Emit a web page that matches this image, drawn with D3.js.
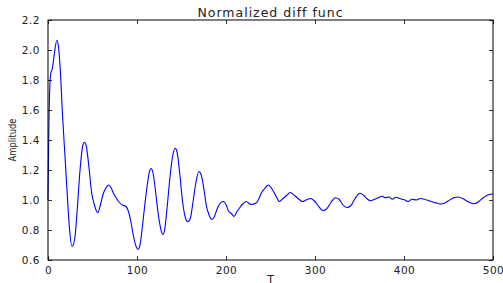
<!DOCTYPE html>
<html><head><meta charset="utf-8">
<script src="https://cdn.jsdelivr.net/npm/d3@7/dist/d3.min.js"></script>
<style>body{margin:0;background:#fff}svg{display:block}</style>
</head><body>
<script>
const T = [0,1,2,3,5,7,10,12,14,16,19,22,24,27,30,33,36,39,41,43,46,49,52,56,59,62,65,68,71,74,77,80,84,87,90,93,96,99,101,103,106,109,112,114,116,118,121,124,127,129,131,134,137,140,143,145,148,151,154,157,160,163,166,169.5,172,175,178,181,184,187,190,193,197,200,203,206,209,212,215,219,222.5,228,234,237,240,244,247.5,251,255,260,264,268,272,277,282,286,290,295,300,305,309,313,318,323,327,331,335.6,340,345,350.5,355,359,362.5,367,371,375.5,379,383,387,391,395,398,401,404.6,409,414,418,423,428,433,437,441,446,450,456,461,466,470,475,479,484,488,493,497,500];
const amplitude = [1.00,1.50,1.75,1.84,1.88,1.97,2.065,2.01,1.85,1.60,1.30,1.00,0.82,0.69,0.74,0.95,1.20,1.36,1.385,1.36,1.22,1.05,0.97,0.915,0.97,1.04,1.08,1.10,1.08,1.04,1.01,0.985,0.965,0.96,0.93,0.86,0.76,0.69,0.67,0.69,0.82,0.98,1.12,1.19,1.21,1.18,1.05,0.90,0.80,0.77,0.80,0.96,1.15,1.29,1.345,1.32,1.18,1.00,0.89,0.855,0.88,0.99,1.11,1.19,1.17,1.08,0.96,0.90,0.87,0.89,0.94,0.975,0.99,0.97,0.925,0.91,0.89,0.92,0.945,0.975,0.99,0.97,0.98,1.01,1.05,1.08,1.10,1.08,1.04,0.99,1.01,1.03,1.05,1.03,1.005,0.99,1.0,1.01,0.99,0.95,0.93,0.94,0.985,1.015,1.005,0.97,0.95,0.96,1.01,1.045,1.03,1.005,0.995,1.005,1.015,1.025,1.015,1.02,1.005,1.018,1.01,1.005,1.0,0.99,1.005,1.0,1.01,1.005,0.995,0.985,0.98,0.973,0.98,0.995,1.015,1.02,1.01,0.995,0.98,0.975,0.99,1.01,1.03,1.038,1.04];
const xTicks = [0,100,200,300,400,500];
const yTicks = [0.6,0.8,1.0,1.2,1.4,1.6,1.8,2.0,2.2];

const W = 503, H = 283;
const m = {l:48, r:10, t:20, b:23};
const svg = d3.select("body").append("svg").attr("width",W).attr("height",H);
const x = d3.scaleLinear().domain([0,500]).range([m.l, W-m.r]);
const y = d3.scaleLinear().domain([0.6,2.2]).range([H-m.b, m.t]);
const font = "'DejaVu Sans', sans-serif";

const data = T.map((t,i)=>({t, v: amplitude[i]}));
svg.append("path").datum(data)
  .attr("fill","none").attr("stroke","#0000ff").attr("stroke-width",1.1)
  .attr("d", d3.line().x(d=>x(d.t)).y(d=>y(d.v)).curve(d3.curveMonotoneX));

const tl = 4;
const styleAxis = g => {
  g.select(".domain").remove();
  g.selectAll("line").attr("stroke","#000").attr("stroke-width",0.8);
  g.selectAll("text").attr("font-family",font).attr("font-size","10.5px").attr("letter-spacing","0.5px").attr("fill","#222");
};
svg.append("g").attr("transform",`translate(0,${H-m.b})`)
  .call(d3.axisBottom(x).tickValues(xTicks).tickSizeInner(-tl).tickSizeOuter(0).tickPadding(7).tickFormat(d3.format("d")))
  .call(styleAxis);
svg.append("g").attr("transform",`translate(0,${m.t})`)
  .call(d3.axisTop(x).tickValues(xTicks).tickSizeInner(-tl).tickSizeOuter(0).tickFormat(""))
  .call(styleAxis);
svg.append("g").attr("transform",`translate(${m.l},0)`)
  .call(d3.axisLeft(y).tickValues(yTicks).tickSizeInner(-tl).tickSizeOuter(0).tickPadding(8).tickFormat(d3.format(".1f")))
  .call(styleAxis);
svg.append("g").attr("transform",`translate(${W-m.r},0)`)
  .call(d3.axisRight(y).tickValues(yTicks).tickSizeInner(-tl).tickSizeOuter(0).tickFormat(""))
  .call(styleAxis);

svg.append("rect").attr("x",m.l).attr("y",m.t).attr("width",W-m.r-m.l).attr("height",H-m.b-m.t)
  .attr("fill","none").attr("stroke","#000").attr("stroke-width",1);

svg.append("text").attr("x",(m.l+W-m.r)/2).attr("y",17).attr("text-anchor","middle")
  .attr("font-family",font).attr("font-size","12.5px").attr("letter-spacing","1px").attr("fill","#222").text("Normalized diff func");
svg.append("text").attr("x",(m.l+W-m.r)/2).attr("y",282.5).attr("text-anchor","middle")
  .attr("font-family",font).attr("font-size","11px").attr("fill","#222").text("T");
svg.append("text").attr("transform",`translate(16,${(m.t+H-m.b)/2}) rotate(-90)`).attr("text-anchor","middle")
  .attr("font-family","'DejaVu Sans Condensed', 'Liberation Sans Narrow', sans-serif").attr("font-size","11px")
  .attr("textLength",43).attr("lengthAdjust","spacingAndGlyphs").attr("fill","#222").text("Amplitude");
</script>
</body></html>
